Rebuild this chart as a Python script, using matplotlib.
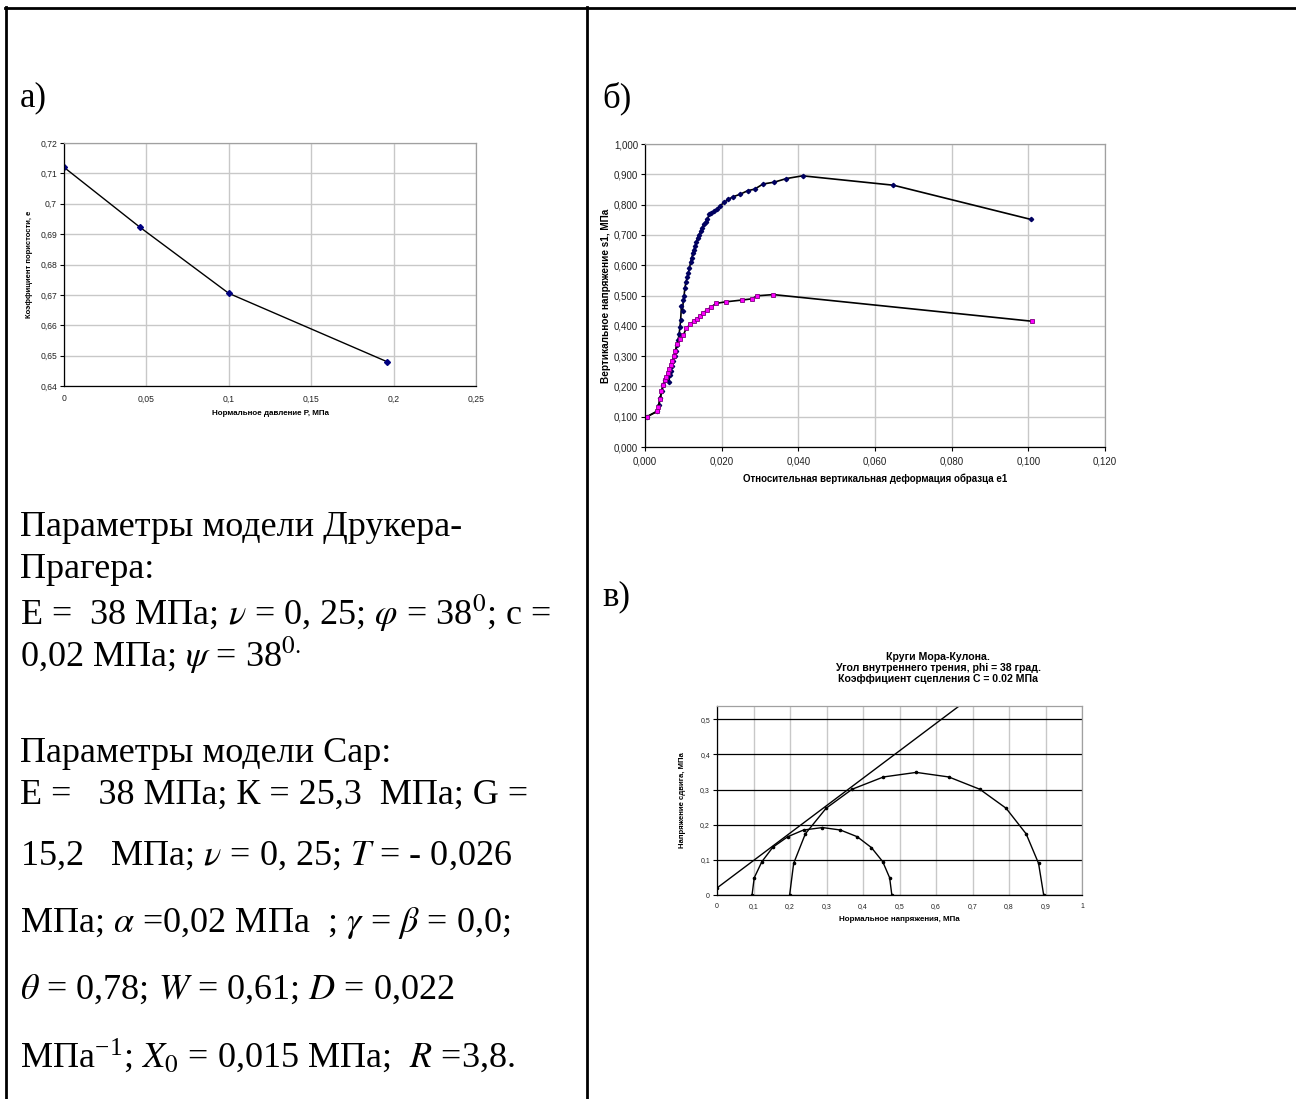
import matplotlib
matplotlib.use("Agg")
import matplotlib.pyplot as plt
from matplotlib.lines import Line2D
from matplotlib.ticker import FixedLocator, FixedFormatter

plt.rcParams['mathtext.fontset'] = 'stix'
plt.rcParams['font.family'] = ['Liberation Sans', 'DejaVu Sans']

# ---------------- data ----------------
# panel a
a_pressure = [0.0, 0.046, 0.1, 0.196]
a_void = [0.712, 0.6923, 0.6705, 0.648]
a_xticks = [0, 0.05, 0.1, 0.15, 0.2, 0.25]
a_xlabels = ["0", "0,05", "0,1", "0,15", "0,2", "0,25"]
a_yticks = [0.64, 0.65, 0.66, 0.67, 0.68, 0.69, 0.70, 0.71, 0.72]
a_ylabels = ["0,64", "0,65", "0,66", "0,67", "0,68", "0,69", "0,7", "0,71", "0,72"]

# panel b (upper curve)
b1_strain = [0.0005, 0.0032, 0.0036, 0.0040, 0.0044, 0.0048, 0.0053, 0.0058, 0.0062, 0.0065,
             0.0068, 0.0071, 0.0074, 0.0077, 0.0080, 0.0083, 0.0086, 0.0089, 0.0091, 0.0093,
             0.0095, 0.0098, 0.0100, 0.0102, 0.0104, 0.0107, 0.0110, 0.0113, 0.0116, 0.0119,
             0.0122, 0.0125, 0.0128, 0.0131, 0.0134, 0.0137, 0.0141, 0.0145, 0.0149, 0.0153,
             0.0158, 0.0163, 0.0168, 0.0173, 0.0179, 0.0187, 0.0195, 0.0206, 0.0217, 0.0230,
             0.0248, 0.0268, 0.0286, 0.0308, 0.0337, 0.0369, 0.0411, 0.0648, 0.1007]
b1_stress = [0.100, 0.118, 0.140, 0.162, 0.185, 0.205, 0.222, 0.232, 0.215, 0.238,
             0.252, 0.268, 0.285, 0.300, 0.318, 0.335, 0.352, 0.372, 0.395, 0.420,
             0.465, 0.450, 0.485, 0.500, 0.525, 0.545, 0.560, 0.575, 0.590, 0.610,
             0.625, 0.640, 0.650, 0.665, 0.675, 0.690, 0.700, 0.712, 0.722, 0.735,
             0.742, 0.752, 0.770, 0.772, 0.778, 0.785, 0.795, 0.807, 0.817, 0.826,
             0.834, 0.846, 0.851, 0.868, 0.874, 0.886, 0.895, 0.864, 0.751]
# panel b (lower curve)
b2_strain = [0.0005, 0.0032, 0.0035, 0.0039, 0.0043, 0.0047, 0.0051, 0.0055, 0.0059, 0.0063,
             0.0067, 0.0071, 0.0075, 0.0079, 0.0084, 0.0090, 0.0100, 0.0108, 0.0118, 0.0127,
             0.0135, 0.0143, 0.0152, 0.0162, 0.0171, 0.0186, 0.0210, 0.0253, 0.0279, 0.0292,
             0.0335, 0.1010]
b2_stress = [0.100, 0.118, 0.132, 0.158, 0.185, 0.205, 0.222, 0.230, 0.245, 0.258,
             0.270, 0.285, 0.300, 0.318, 0.340, 0.357, 0.370, 0.392, 0.405, 0.415,
             0.422, 0.432, 0.443, 0.452, 0.461, 0.474, 0.479, 0.485, 0.489, 0.499,
             0.503, 0.415]
b_xticks = [0, 0.02, 0.04, 0.06, 0.08, 0.10, 0.12]
b_xlabels = ["0,000", "0,020", "0,040", "0,060", "0,080", "0,100", "0,120"]
b_yticks = [0, 0.1, 0.2, 0.3, 0.4, 0.5, 0.6, 0.7, 0.8, 0.9, 1.0]
b_ylabels = ["0,000", "0,100", "0,200", "0,300", "0,400", "0,500", "0,600", "0,700",
             "0,800", "0,900", "1,000"]

# panel c (Mohr circles + envelope)
c_env_sigma = [0.0, 0.68]
c_env_tau = [0.02, 0.551]
c_small_sigma = [0.096, 0.102, 0.123, 0.153, 0.194, 0.237, 0.289, 0.338, 0.384, 0.423,
                 0.454, 0.473, 0.479]
c_small_tau = [0.0, 0.049, 0.095, 0.136, 0.166, 0.185, 0.192, 0.185, 0.166, 0.135,
               0.095, 0.049, 0.0]
c_big_sigma = [0.199, 0.210, 0.242, 0.299, 0.370, 0.456, 0.546, 0.635, 0.720, 0.792,
               0.847, 0.881, 0.895]
c_big_tau = [0.0, 0.090, 0.174, 0.247, 0.301, 0.336, 0.349, 0.336, 0.301, 0.247,
             0.174, 0.090, 0.0]
c_xticks = [0, 0.1, 0.2, 0.3, 0.4, 0.5, 0.6, 0.7, 0.8, 0.9, 1.0]
c_xlabels = ["0", "0,1", "0,2", "0,3", "0,4", "0,5", "0,6", "0,7", "0,8", "0,9", "1"]
c_yticks = [0, 0.1, 0.2, 0.3, 0.4, 0.5]
c_ylabels = ["0", "0,1", "0,2", "0,3", "0,4", "0,5"]

text_lines = [
    "Параметры модели Друкера-",
    "Прагера:",
    r"Е =  38 МПа; $\nu$ = 0, 25; $\varphi$ = 38$^{0}$; с =",
    r"0,02 МПа; $\psi$ = 38$^{0.}$",
    "Параметры модели Cap:",
    "Е =   38 МПа; К = 25,3  МПа; G =",
    r"15,2   МПа; $\nu$ = 0, 25; $T$ = - 0,026",
    r"МПа; $\alpha$ =0,02 МПа  ; $\gamma$ = $\beta$ = 0,0;",
    r"$\theta$ = 0,78; $W$ = 0,61; $D$ = 0,022",
    r"МПа$^{\mathregular{-1}}$; $X_0$ = 0,015 МПа;  $R$ =3,8.",
]
text_y = [527, 569, 613, 655, 753, 795, 856, 923, 990, 1056]

# ---------------- figure ----------------
W, H = 1296, 1099
fig = plt.figure(figsize=(W / 100, H / 100), dpi=100)
fig.patch.set_facecolor("white")


def px_axes(l, t, r, b):
    return fig.add_axes([l / W, 1 - b / H, (r - l) / W, (b - t) / H])


def fx(x):
    return x / W


def fy(y):
    return 1 - y / H


# border lines
for xs, ys in [((5, W), (7.5, 7.5)), ((6, 6), (7, H)), ((587, 587), (7, H))]:
    fig.add_artist(Line2D([fx(xs[0]), fx(xs[1])], [fy(ys[0]), fy(ys[1])],
                          transform=fig.transFigure, color="black", lw=2.0))

serif = ['Liberation Serif', 'DejaVu Serif']
fig.text(fx(20), fy(98), "а)", fontsize=25, family=serif, va="center", ha="left")
fig.text(fx(602), fy(98), "б)", fontsize=25, family=serif, va="center", ha="left")
fig.text(fx(602), fy(597), "в)", fontsize=25, family=serif, va="center", ha="left")

for s, y in zip(text_lines, text_y):
    fig.text(fx(20), fy(y), s, fontsize=26, family=serif, va="center", ha="left")


def style_axes(ax, tick_fs):
    for side in ("left", "bottom"):
        ax.spines[side].set_color("black")
        ax.spines[side].set_linewidth(0.9)
    for side in ("top", "right"):
        ax.spines[side].set_color("#a0a0a0")
        ax.spines[side].set_linewidth(0.9)
    ax.tick_params(direction="out", length=3, width=0.8, labelsize=tick_fs, pad=2,
                   colors="black", labelcolor="#222222")
    ax.set_axisbelow(True)


# panel a
axa = px_axes(64, 143, 476, 386)
axa.plot(a_pressure, a_void, color="black", lw=1.0, marker="D", ms=3,
         mfc="#000080", mec="#000080")
axa.set_xlim(0, 0.25)
axa.set_ylim(0.64, 0.72)
axa.xaxis.set_major_locator(FixedLocator(a_xticks))
axa.xaxis.set_major_formatter(FixedFormatter(a_xlabels))
axa.yaxis.set_major_locator(FixedLocator(a_yticks))
axa.yaxis.set_major_formatter(FixedFormatter(a_ylabels))
axa.grid(True, color="#c8c8c8", lw=1.0)
style_axes(axa, 6.2)
axa.tick_params(axis="x", length=0, pad=6)
axa.set_xlabel("Нормальное давление Р, МПа", fontsize=5.8, fontweight="bold", labelpad=5)
axa.set_ylabel("Коэффициент пористости, е", fontsize=5.5, fontweight="bold", labelpad=5)

# panel b
axb = px_axes(645, 144, 1105, 447)
axb.plot(b1_strain, b1_stress, color="black", lw=1.2, marker="D", ms=2.2,
         mfc="#000060", mec="#000060")
axb.plot(b2_strain, b2_stress, color="black", lw=1.2, marker="s", ms=2.6,
         mfc="#ff00ff", mec="#800080", mew=0.6)
axb.set_xlim(0, 0.12)
axb.set_ylim(0, 1.0)
axb.xaxis.set_major_locator(FixedLocator(b_xticks))
axb.xaxis.set_major_formatter(FixedFormatter(b_xlabels))
axb.yaxis.set_major_locator(FixedLocator(b_yticks))
axb.yaxis.set_major_formatter(FixedFormatter(b_ylabels))
axb.grid(True, color="#c8c8c8", lw=1.0)
style_axes(axb, 7)
axb.tick_params(axis="x", pad=4)
axb.set_xlabel("Относительная вертикальная деформация образца е1", fontsize=7,
               fontweight="bold", labelpad=5)
axb.set_ylabel("Вертикальное напряжение s1, МПа", fontsize=7.2, fontweight="bold",
               labelpad=2)

# panel c
axc = px_axes(717, 706, 1082, 895)
axc.plot(c_env_sigma, c_env_tau, color="black", lw=1.0, marker="o", ms=1.5)
axc.plot(c_small_sigma, c_small_tau, color="black", lw=1.0, marker="o", ms=1.6)
axc.plot(c_big_sigma, c_big_tau, color="black", lw=1.0, marker="o", ms=1.6)
axc.set_xlim(0, 1)
axc.set_ylim(0, 0.538)
axc.xaxis.set_major_locator(FixedLocator(c_xticks))
axc.xaxis.set_major_formatter(FixedFormatter(c_xlabels))
axc.yaxis.set_major_locator(FixedLocator(c_yticks))
axc.yaxis.set_major_formatter(FixedFormatter(c_ylabels))
axc.xaxis.grid(True, color="#c8c8c8", lw=1.0)
axc.yaxis.grid(True, color="black", lw=0.9)
style_axes(axc, 5)
axc.tick_params(axis="x", length=0, pad=6)
axc.set_xlabel("Нормальное напряжения, МПа", fontsize=5.8, fontweight="bold", labelpad=4)
axc.set_ylabel("Напряжение сдвига, МПа", fontsize=5.6, fontweight="bold", labelpad=10)
fig.text(fx(938), fy(668),
         "Круги Мора-Кулона.\nУгол внутреннего трения, phi = 38 град.\n"
         "Коэффициент сцепления С = 0.02 МПа",
         fontsize=7.6, fontweight="bold", ha="center", va="center", linespacing=1.15)

fig.savefig("out.png", dpi=100, facecolor="white")
